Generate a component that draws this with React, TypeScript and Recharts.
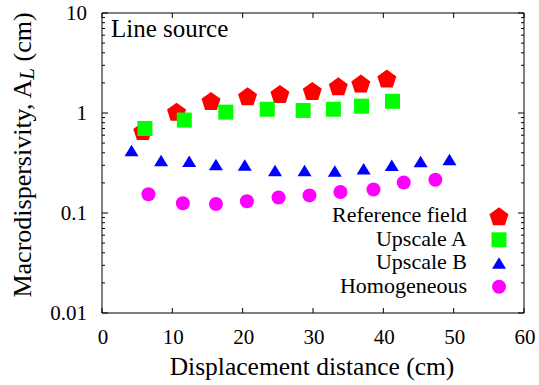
import React from 'react';
import { ScatterChart, Scatter, XAxis, YAxis, ReferenceArea, Label } from 'recharts';

// ---- data ----
const refX = [5.8, 10.6, 15.5, 20.7, 25.3, 29.9, 33.6, 36.8, 40.5];
const refY = [0.66, 1.03, 1.32, 1.47, 1.55, 1.66, 1.85, 1.97, 2.21];
const upAX = [6.1, 11.7, 17.6, 23.5, 28.6, 32.9, 36.9, 41.3];
const upAY = [0.7, 0.85, 1.02, 1.09, 1.06, 1.09, 1.17, 1.31];
const upBX = [4.2, 8.4, 12.4, 16.2, 20.3, 24.6, 28.8, 33.1, 37.2, 41.2, 45.3, 49.4];
const upBY = [0.42, 0.333, 0.328, 0.303, 0.3, 0.265, 0.265, 0.262, 0.276, 0.298, 0.326, 0.341];
const homX = [6.6, 11.5, 16.2, 20.6, 25.1, 29.5, 33.9, 38.6, 42.9, 47.4];
const homY = [0.154, 0.125, 0.123, 0.131, 0.143, 0.15, 0.162, 0.172, 0.202, 0.215];

const xTicks = [0, 10, 20, 30, 40, 50, 60];
const yMajor = [0.01, 0.1, 1, 10];
const seriesNames = ['Reference field', 'Upscale A', 'Upscale B', 'Homogeneous'];
const seriesColors = ['#ff0000', '#00ff00', '#0000ff', '#ff00ff'];
const titleText = 'Line source';
const xTitle = 'Displacement distance (cm)';

const yTicks: number[] = [];
for (let d = 0; d < yMajor.length - 1; d++) {
  for (let m = 1; m <= 9; m++) yTicks.push(parseFloat((yMajor[d] * m).toPrecision(6)));
}
yTicks.push(yMajor[yMajor.length - 1]);

const zip = (xs: number[], ys: number[]) => xs.map((x, i) => ({ x, y: ys[i] }));
const seriesData = [zip(refX, refY), zip(upAX, upAY), zip(upBX, upBY), zip(homX, homY)];

// ---- layout ----
const W = 539;
const H = 385;
const LEFT = 102;
const RIGHT = 524;
const TOP = 13;
const BOTTOM = 313;
const FONT = 'Liberation Serif, Times New Roman, serif';

// ---- marker shapes ----
const pentagon = (cx: number, cy: number, color: string) => {
  const r = 10;
  const c = cy + 0.95;
  const pts = [0, 1, 2, 3, 4]
    .map((k) => {
      const a = -Math.PI / 2 + (k * 2 * Math.PI) / 5;
      return `${cx + r * Math.cos(a)},${c + r * Math.sin(a)}`;
    })
    .join(' ');
  return <polygon points={pts} fill={color} />;
};
const square = (cx: number, cy: number, color: string) => (
  <rect x={cx - 7.5} y={cy - 7.5} width={15} height={15} fill={color} />
);
const triangle = (cx: number, cy: number, color: string) => (
  <polygon points={`${cx},${cy - 6} ${cx + 7},${cy + 5.5} ${cx - 7},${cy + 5.5}`} fill={color} />
);
const circle = (cx: number, cy: number, color: string) => <circle cx={cx} cy={cy} r={7} fill={color} />;
const shapes = [pentagon, square, triangle, circle];

const isMajor = (v: number) => yMajor.some((m) => Math.abs(m - v) / m < 1e-6);

const YTick = (props: any) => {
  const { y, payload } = props;
  const v = payload.value;
  const major = isMajor(v);
  const len = major ? 6 : 3;
  return (
    <g>
      <line x1={LEFT} x2={LEFT + len} y1={y} y2={y} stroke="#000" />
      <line x1={RIGHT} x2={RIGHT - len} y1={y} y2={y} stroke="#000" />
      {major && (
        <text x={87} y={y + 7} textAnchor="end" fontFamily={FONT} fontSize={21} fill="#000">
          {String(v)}
        </text>
      )}
    </g>
  );
};

const XTick = (props: any) => {
  const { x, payload } = props;
  return (
    <g>
      <line x1={x} x2={x} y1={BOTTOM} y2={BOTTOM - 5} stroke="#000" />
      <line x1={x} x2={x} y1={TOP} y2={TOP + 5} stroke="#000" />
      <text x={x + 1} y={344} textAnchor="middle" fontFamily={FONT} fontSize={21} fill="#000">
        {String(payload.value)}
      </text>
    </g>
  );
};

const YTitle = () => (
  <text
    x={22}
    y={155}
    transform="rotate(-90, 22, 155)"
    textAnchor="middle"
    dominantBaseline="central"
    fontFamily={FONT}
    fontSize={26}
    fill="#000"
  >
    Macrodispersivity, A
    <tspan fontStyle="italic" fontSize={21} dy={5}>
      L
    </tspan>
    <tspan dy={-5}> (cm)</tspan>
  </text>
);

const XTitle = () => (
  <text x={312} y={375} textAnchor="middle" fontFamily={FONT} fontSize={25.5} fill="#000">
    {xTitle}
  </text>
);

export default function App() {
  return (
    <div style={{ position: 'absolute', left: 0, top: 0, width: W, height: H, background: '#fff' }}>
      <ScatterChart width={W} height={H} margin={{ top: TOP, right: W - RIGHT, left: 0, bottom: 0 }}>
        <XAxis
          type="number"
          dataKey="x"
          domain={[0, 60]}
          ticks={xTicks}
          allowDataOverflow
          axisLine={false}
          tickLine={false}
          tick={<XTick />}
          height={H - BOTTOM}
          interval={0}
        >
          <Label content={<XTitle />} />
        </XAxis>
        <YAxis
          type="number"
          dataKey="y"
          scale="log"
          domain={[0.01, 10]}
          ticks={yTicks}
          allowDataOverflow
          axisLine={false}
          tickLine={false}
          tick={<YTick />}
          width={LEFT}
          interval={0}
        >
          <Label content={<YTitle />} />
        </YAxis>
        <ReferenceArea x1={0} x2={60} y1={0.01} y2={10} fill="none" fillOpacity={0} stroke="#000" strokeWidth={1} />
        {seriesData.map((d, i) => (
          <Scatter
            key={seriesNames[i]}
            name={seriesNames[i]}
            data={d}
            isAnimationActive={false}
            shape={(p: any) => shapes[i](p.cx, p.cy, seriesColors[i])}
          />
        ))}
      </ScatterChart>
      <svg width={W} height={H} style={{ position: 'absolute', left: 0, top: 0, pointerEvents: 'none' }}>
        <text x={111} y={37} fontFamily={FONT} fontSize={25} fill="#000">
          {titleText}
        </text>
        {seriesNames.map((n, i) => {
          const base = 222.3 + 23.5 * i;
          return (
            <g key={n}>
              <text x={467} y={base} textAnchor="end" fontFamily={FONT} fontSize={22} fill="#000">
                {n}
              </text>
              {shapes[i](499, base - 6, seriesColors[i])}
            </g>
          );
        })}
      </svg>
    </div>
  );
}
